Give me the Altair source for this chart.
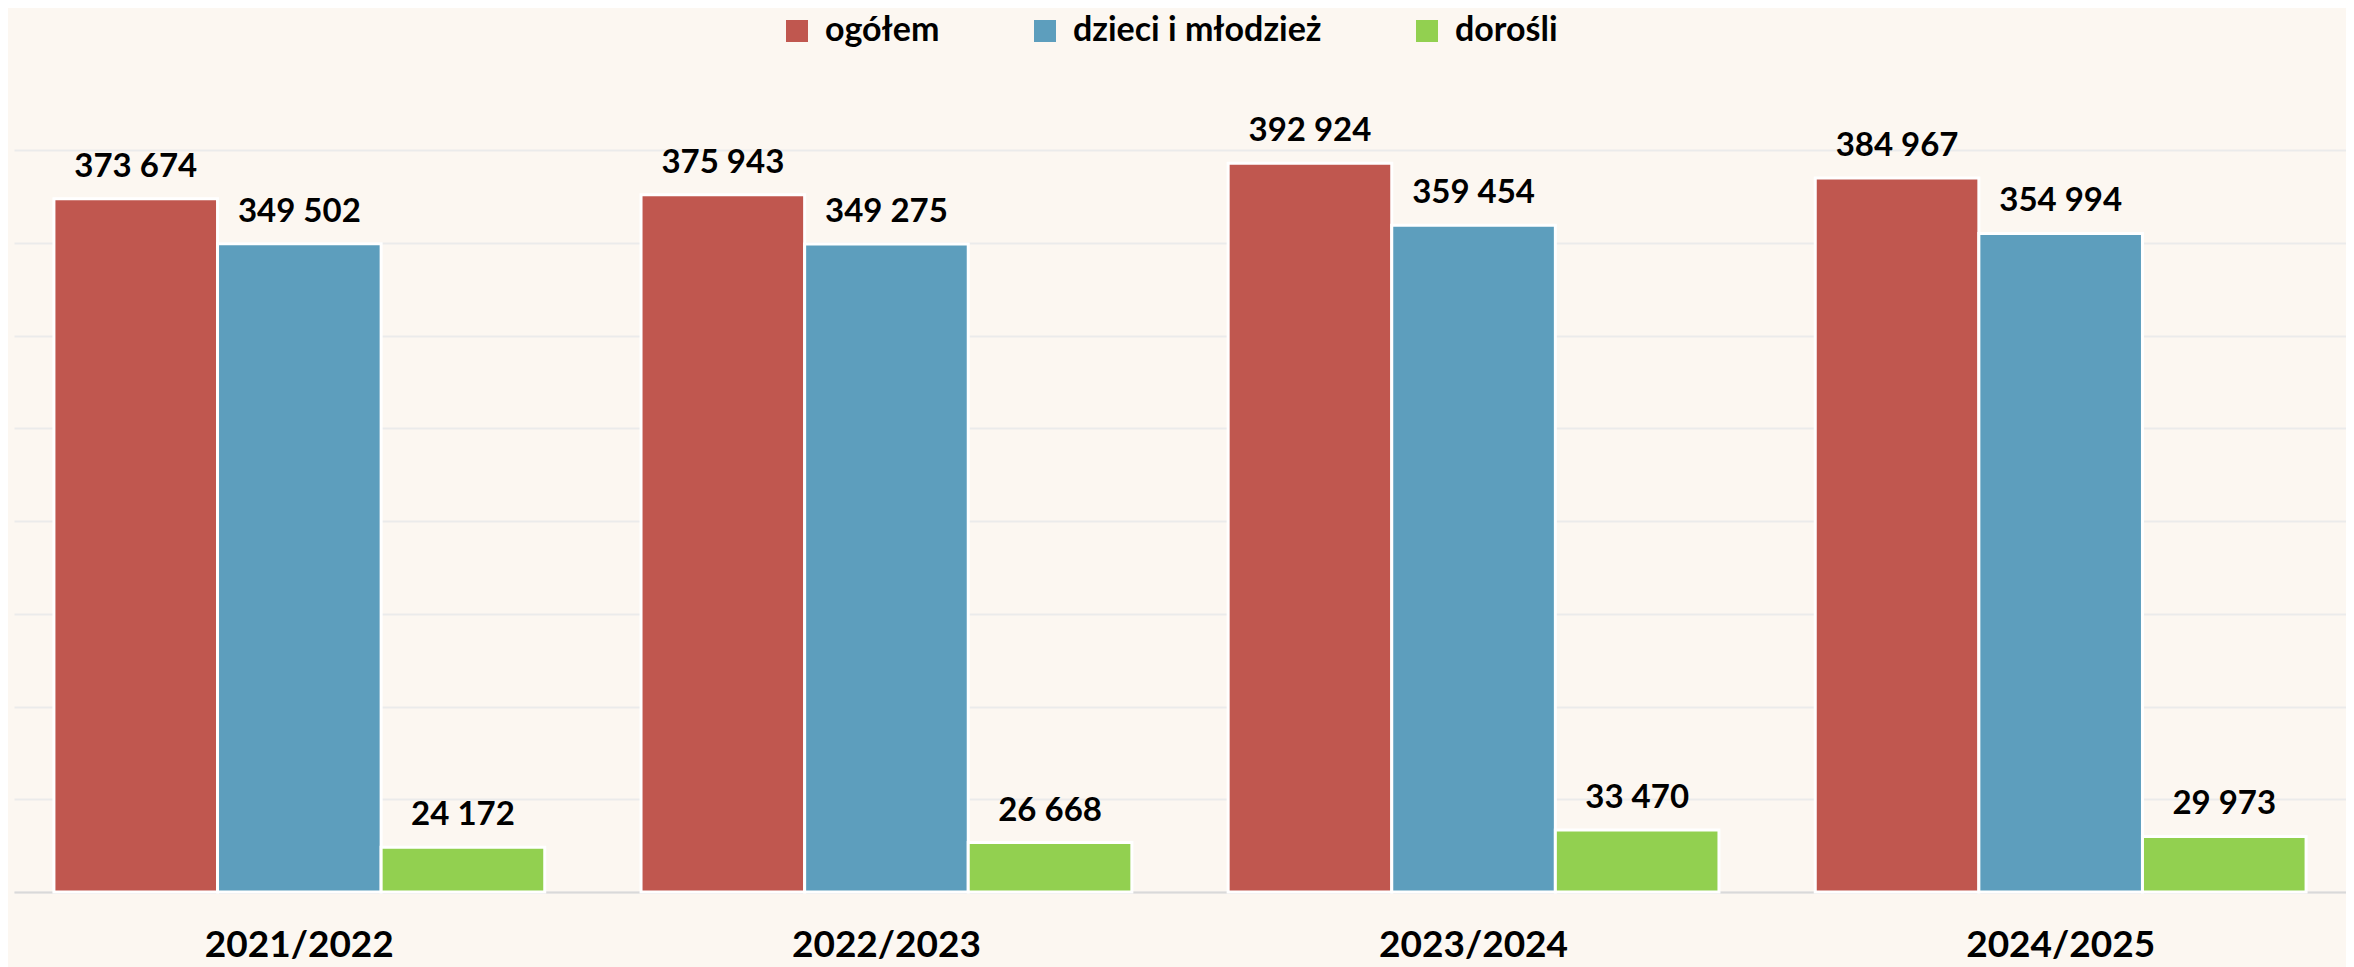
import altair as alt
import pandas as pd

years = ["2021/2022", "2022/2023", "2023/2024", "2024/2025"]
series = ["ogółem", "dzieci i młodzież", "dorośli"]
ogolem = [373674, 375943, 392924, 384967]
dzieci = [349502, 349275, 359454, 354994]
dorosli = [24172, 26668, 33470, 29973]
colors = ["#C0574F", "#5D9EBD", "#92D050"]
grid_values = [0, 50000, 100000, 150000, 200000, 250000, 300000, 350000, 400000]

rows = []
for i, y in enumerate(years):
    for s, vals in zip(series, [ogolem, dzieci, dorosli]):
        v = vals[i]
        rows.append({"rok": y, "grupa": s, "liczba": v,
                     "etykieta": f"{v:,}".replace(",", " ")})
df = pd.DataFrame(rows)

FONT = "Lato"

x = alt.X("rok:N", sort=years, title=None,
          scale=alt.Scale(paddingInner=0.164, paddingOuter=0.068),
          axis=alt.Axis(labelAngle=0, labelFont=FONT, labelFontSize=37,
                        labelFontWeight="bold", labelColor="#000000",
                        labelPadding=35, labelLimit=0, ticks=False,
                        domainColor="#D9D9D9", domainWidth=2, grid=False))
xo = alt.XOffset("grupa:N", sort=series, scale=alt.Scale(paddingInner=0.0))
y = alt.Y("liczba:Q", title=None,
          scale=alt.Scale(domain=[0, 400000], nice=False),
          axis=alt.Axis(labels=False, ticks=False, domain=False,
                        values=grid_values, labelOverlap=False,
                        gridColor="#EBEBEB", gridWidth=2))
color = alt.Color("grupa:N", sort=series,
                  scale=alt.Scale(domain=series, range=colors),
                  legend=alt.Legend(title=None, orient="none", direction="horizontal",
                                    legendX=766, legendY=-136,
                                    symbolType="square", symbolSize=484,
                                    symbolStrokeWidth=0,
                                    labelFont=FONT, labelFontSize=34,
                                    labelFontWeight="bold", labelColor="#000000",
                                    labelOffset=11, columnPadding=88,
                                    labelLimit=1000))

bars = alt.Chart(df).mark_bar(stroke="#FFFFFF", strokeWidth=3).encode(
    x=x, xOffset=xo, y=y, color=color)

labels = alt.Chart(df).mark_text(font=FONT, fontSize=33, fontWeight="bold",
                                 color="#000000", baseline="alphabetic",
                                 dy=-22).encode(
    x=alt.X("rok:N", sort=years), xOffset=alt.XOffset("grupa:N", sort=series),
    y="liczba:Q", text="etykieta:N")

chart = (bars + labels).properties(
    width=2332, height=742,
    autosize=alt.AutoSizeParams(type="none"),
    padding={"left": 6, "top": 142, "right": 0, "bottom": 75},
    background="#FCF7F1",
).configure_view(stroke=None)

chart.save("out.html", embed_options={"renderer": "svg", "actions": False})
